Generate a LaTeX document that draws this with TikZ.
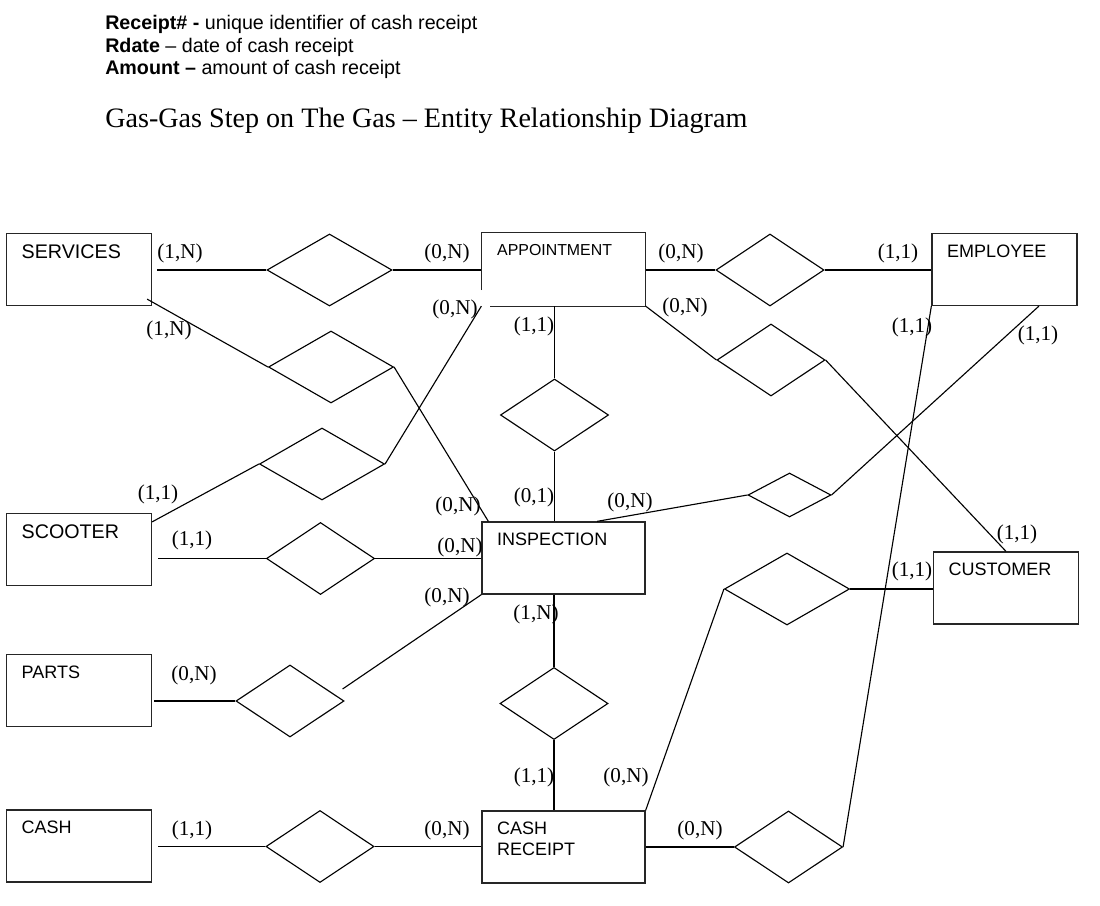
\documentclass[tikz,border=0pt]{standalone}
\usepackage{fontspec}
\setmainfont{Liberation Serif}
\setsansfont{Liberation Sans}
\usetikzlibrary{shapes.geometric}

\begin{document}
\begin{tikzpicture}[
  x=0.025cm, y=-0.025cm,
  entity/.style={draw=black!85, line width=0.9pt, minimum width=3.625cm, minimum height=1.8cm, inner sep=0pt},
  wideentity/.style={entity, minimum width=4.075cm},
  etext/.style={anchor=north west, inner sep=0pt, align=left, font=\sffamily\fontsize{12.8}{15}\selectfont, shift={(0.39cm,-0.285cm)}},
  rel/.style={draw, shape=diamond, line width=0.8pt, inner sep=0pt},
  relwide/.style={minimum width=3.125cm, minimum height=1.8cm},
  relmid/.style={minimum width=2.7cm, minimum height=1.8cm},
  relsmall/.style={minimum width=2.075cm, minimum height=1.1cm},
  card/.style={font=\fontsize{15}{17}\selectfont, inner sep=0pt},
  link/.style={line width=0.8pt},
  note/.style={anchor=base west, inner sep=0pt, font=\sffamily\fontsize{14}{16}\selectfont}
]
\useasboundingbox (0,0) rectangle (1100,906);

% header
\node[note] (note1) at (105,30) {\textbf{Receipt\# -} unique identifier of cash receipt};
\node[note] (note2) at (105,52.5) {\textbf{Rdate} – date of cash receipt};
\node[note] (note3) at (105,75) {\textbf{Amount –} amount of cash receipt};
\node[anchor=base west, inner sep=0pt, font=\fontsize{20}{24}\selectfont] (title) at (105,128) {Gas-Gas Step on The Gas – Entity Relationship Diagram};

% entities
\node[entity, label={[etext, font=\sffamily\fontsize{14}{16}\selectfont]north west:SERVICES}] (serv) at (79,269.5) {};
\node[wideentity, draw=none, label={[etext, font=\sffamily\fontsize{11.3}{14}\selectfont]north west:APPOINTMENT}] (appt) at (563.5,269.5) {};
\node[entity, label={[etext]north west:EMPLOYEE}] (empl) at (1004.5,269.5) {};
\node[entity, label={[etext, font=\sffamily\fontsize{14}{16}\selectfont]north west:SCOOTER}] (scoot) at (79,549.5) {};
\node[wideentity, label={[etext]north west:INSPECTION}] (insp) at (563.5,558) {};
\node[entity, label={[etext]north west:CUSTOMER}] (cust) at (1006,588) {};
\node[entity, label={[etext]north west:PARTS}] (parts) at (79,690.5) {};
\node[entity, label={[etext]north west:CASH}] (cash) at (79,846) {};
\node[wideentity, label={[etext]north west:{CASH\\RECEIPT}}] (crec) at (563.5,847) {};
% appointment box, open at the lower left corner
\draw[draw=black!85, line width=0.9pt] ([yshift=0.4cm]appt.south west) |- (appt.north east) |- ([xshift=0.225cm]appt.south west);

% relationships
\node[rel, relwide] (dsa) at (329.5,270) {};
\node[rel, relwide] (dsi) at (331,367) {};
\node[rel, relwide] (dsap) at (322,464) {};
\node[rel, relmid] (dai) at (554.5,415) {};
\node[rel, relmid] (dae) at (770,270) {};
\node[rel, relmid] (dac) at (771,360) {};
\node[rel, relsmall] (die) at (789.5,495) {};
\node[rel, relmid] (dsc) at (320.5,558.5) {};
\node[rel, relmid] (dpi) at (290,701) {};
\node[rel, relmid] (dir) at (554,703.5) {};
\node[rel, relmid] (dcc) at (320,846.5) {};
\node[rel, relwide] (drc) at (787,589) {};
\node[rel, relmid] (dre) at (788.5,847) {};

% connectors
\draw[link, shorten <=0.125cm] (serv.east |- dsa.west) -- (dsa.west);
\draw[link] (dsa.east) -- (dsa.east -| appt.west);
\draw[link] ([shift={(-5,-7)}]serv.south east) -- (dsi.west);
\draw[link] (dsi.east) -- ([xshift=0.175cm]insp.north west);
\draw[link] ([yshift=-0.225cm]scoot.north east) -- (dsap.west);
\draw[link] (dsap.east) -- (appt.south west);
\draw[link] (dai.north) -- (dai.north |- appt.south);
\draw[link] (dai.south) -- (dai.south |- insp.north);
\draw[link] (appt.east |- dae.west) -- (dae.west);
\draw[link] (dae.east) -- (dae.east -| empl.west);
\draw[link] (appt.south east) -- (dac.west);
\draw[link] (dac.east) -- (cust.north);
\draw[link] ([xshift=0.84cm]insp.north) -- (die.west);
\draw[link] (die.east) -- ([xshift=0.86cm]empl.south);
\draw[link, shorten <=0.15cm] (scoot.east |- dsc.west) -- (dsc.west);
\draw[link] (dsc.east) -- (dsc.east -| insp.west);
\draw[link, shorten <=0.05cm] (parts.east |- dpi.west) -- (dpi.west);
\draw[link] ([shift={(-2,-12)}]dpi.east) -- (insp.south west);
\draw[link] (dir.north) -- (dir.north |- insp.south);
\draw[link] (dir.south) -- (dir.south |- crec.north);
\draw[link, shorten <=0.15cm] (cash.east |- dcc.west) -- (dcc.west);
\draw[link] (dcc.east) -- (dcc.east -| crec.west);
\draw[link] (crec.north east) -- (drc.west);
\draw[link] (drc.east) -- (drc.east -| cust.west);
\draw[link] (crec.east |- dre.west) -- (dre.west);
\draw[link] (dre.east) -- (empl.south west);

% cardinalities
\node[card] (k-sa-s) at (180,253) {(1,N)};
\node[card] (k-sa-a) at (447,253) {(0,N)};
\node[card] (k-si-s) at (169,330) {(1,N)};
\node[card] (k-sap-a) at (455,309) {(0,N)};
\node[card] (k-ai-a) at (534,326) {(1,1)};
\node[card] (k-ae-a) at (681,253) {(0,N)};
\node[card] (k-ae-e) at (898,253) {(1,1)};
\node[card] (k-ac-a) at (685,307) {(0,N)};
\node[card] (k-re-e) at (912,327) {(1,1)};
\node[card] (k-ie-e) at (1038,335) {(1,1)};
\node[card] (k-sap-s) at (158,494) {(1,1)};
\node[card] (k-si-i) at (458,506) {(0,N)};
\node[card] (k-ai-i) at (534,497) {(0,1)};
\node[card] (k-ie-i) at (630,502) {(0,N)};
\node[card] (k-sc-s) at (192,540) {(1,1)};
\node[card] (k-sc-i) at (460,547) {(0,N)};
\node[card] (k-ac-c) at (1017,534) {(1,1)};
\node[card] (k-rc-c) at (912,571) {(1,1)};
\node[card] (k-pi-i) at (447,597) {(0,N)};
\node[card] (k-ir-i) at (536,614) {(1,N)};
\node[card] (k-pi-p) at (194,675) {(0,N)};
\node[card] (k-ir-r) at (534,777) {(1,1)};
\node[card] (k-rc-r) at (626,777) {(0,N)};
\node[card] (k-cc-c) at (192,830) {(1,1)};
\node[card] (k-cc-r) at (447,830) {(0,N)};
\node[card] (k-re-r) at (700,830) {(0,N)};
\end{tikzpicture}
\end{document}
